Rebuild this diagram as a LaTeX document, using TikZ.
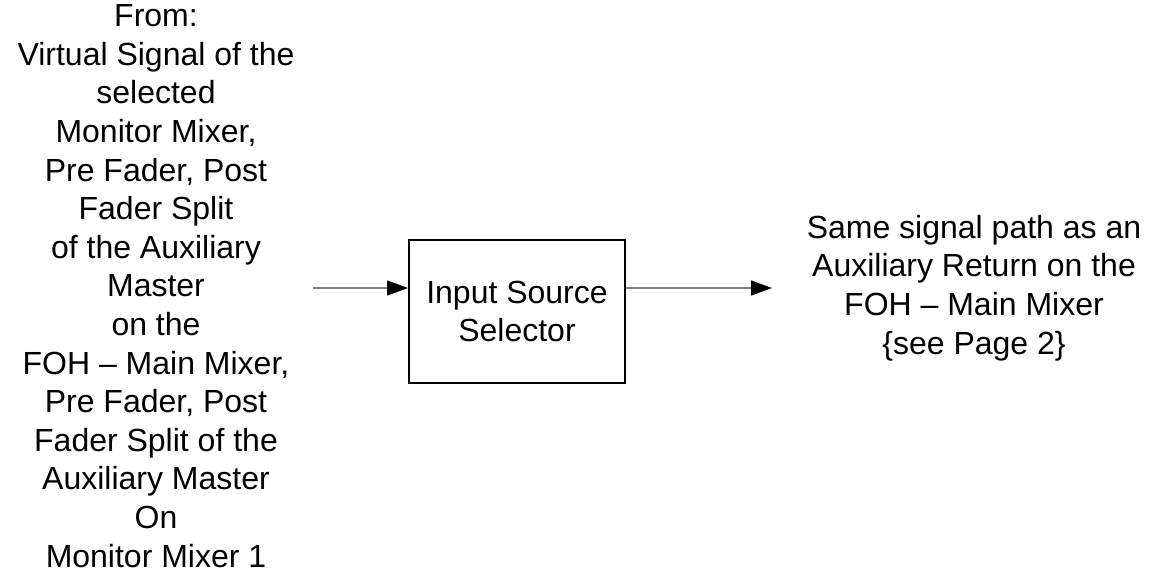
\documentclass[tikz,border=0pt]{standalone}
\usepackage{fontspec}
\setmainfont{Liberation Sans}
\usetikzlibrary{arrows.meta}
\tikzset{
    label text/.style={align=center, font=\fontsize{16pt}{19.3pt}\selectfont, inner sep=0pt},
    sig/.style={draw=gray, line width=0.6pt, -{Triangle[length=10.5pt, width=7.5pt, black]}}
}
\begin{document}
\begin{tikzpicture}[x=0.5pt, y=-0.5pt]
    \useasboundingbox (0,0) rectangle (1154,570);
    \node[label text] (src) at (156,286) {From:\\ Virtual Signal of the\\ selected\\ Monitor Mixer,\\ Pre Fader, Post\\ Fader Split\\ of the Auxiliary\\ Master\\ on the\\ FOH -- Main Mixer,\\ Pre Fader, Post\\ Fader Split of the\\ Auxiliary Master\\ On\\ Monitor Mixer 1};
    \node[draw, line width=1pt, minimum width=108pt, minimum height=71.5pt, label text] (sel) at (517,311.5) {Input Source\\ Selector};
    \node[label text] (dest) at (974,288) {Same signal path as an\\ Auxiliary Return on the\\ FOH -- Main Mixer\\ \{see Page 2\}};
    \coordinate (inA) at (313,288);
    \coordinate (outB) at (772,288);
    \draw[sig] (inA) -- (inA -| sel.west);
    \draw[sig] (inA -| sel.east) -- (outB);
\end{tikzpicture}
\end{document}
